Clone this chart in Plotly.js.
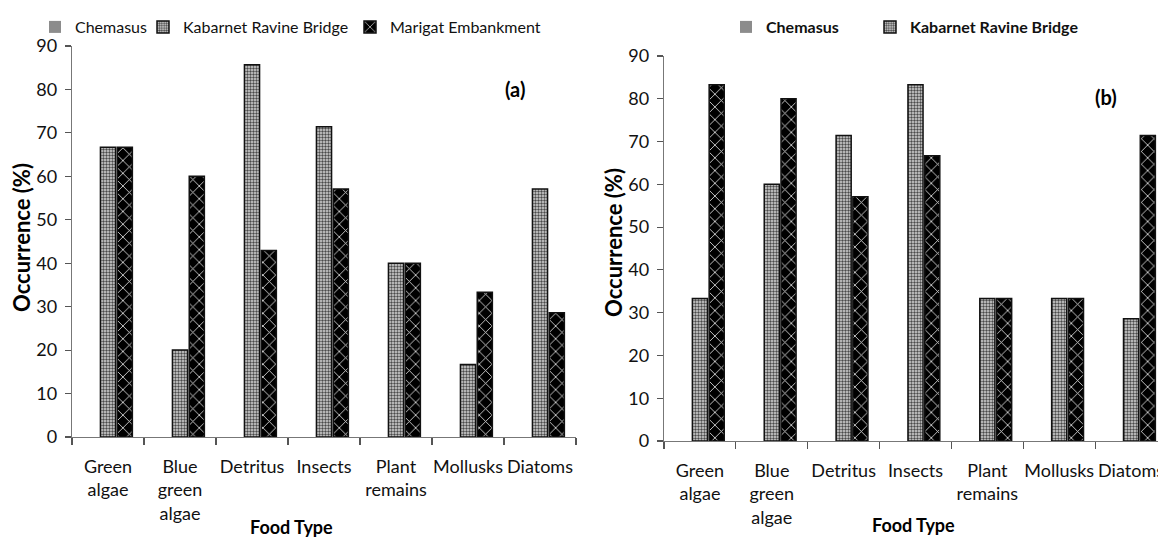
<!DOCTYPE html>
<html>
<head>
<meta charset="utf-8">
<script src="https://cdn.plot.ly/plotly-3.0.1.min.js"></script>
<style>html,body{margin:0;padding:0;background:#fff;}#chart{width:1158px;height:538px;}</style>
</head>
<body>
<div id="chart"></div>
<script>
var categories = ["Green<br>algae", "Blue<br>green<br>algae", "Detritus", "Insects", "Plant<br>remains", "Mollusks", "Diatoms"];
var seriesNames = ["Chemasus", "Kabarnet Ravine Bridge", "Marigat Embankment"];
var yTicks = [0, 10, 20, 30, 40, 50, 60, 70, 80, 90];

// Panel (a)
var chemasusA = [0, 0, 0, 0, 0, 0, 0];
var kabarnetA = [66.7, 20, 85.7, 71.4, 40, 16.7, 57.1];
var marigatA  = [66.7, 60, 42.9, 57.1, 40, 33.3, 28.6];

// Panel (b)
var chemasusB = [0, 0, 0, 0, 0, 0, 0];
var kabarnetB = [33.3, 60, 71.4, 83.3, 33.3, 33.3, 28.6];
var marigatB  = [83.3, 80, 57.1, 66.7, 33.3, 33.3, 71.4];

var FONT = "Lato, 'Open Sans', sans-serif";

var gray = {color: "#8c8c8c", line: {width: 0}};
function dotted() {
  return {color: "#cfcfcf", line: {color: "#111", width: 1.5},
    pattern: {shape: ".", fgcolor: "#4a4a4a", bgcolor: "#d8d8d8", size: 3, solidity: 0.5}};
}
function chevron() {
  return {color: "#000", line: {color: "#111", width: 1.5},
    pattern: {shape: "x", fgcolor: "#e0e0e0", bgcolor: "#000", size: 9, solidity: 0.18}};
}

var traces = [
  {type: "bar", name: seriesNames[0], x: categories, y: chemasusA, xaxis: "x", yaxis: "y", marker: gray, legend: "legend"},
  {type: "bar", name: seriesNames[1], x: categories, y: kabarnetA, xaxis: "x", yaxis: "y", marker: dotted(), legend: "legend2"},
  {type: "bar", name: seriesNames[2], x: categories, y: marigatA, xaxis: "x", yaxis: "y", marker: chevron(), legend: "legend3"},
  {type: "bar", name: "<b>" + seriesNames[0] + "</b>", x: categories, y: chemasusB, xaxis: "x2", yaxis: "y2", marker: gray, legend: "legend4"},
  {type: "bar", name: "<b>" + seriesNames[1] + "</b>", x: categories, y: kabarnetB, xaxis: "x2", yaxis: "y2", marker: dotted(), legend: "legend5"},
  {type: "bar", name: seriesNames[2], x: categories, y: marigatB, xaxis: "x2", yaxis: "y2", marker: chevron(), showlegend: false}
];

var W = 1158, H = 538;
function px(x) { return x / W; }
function py(y) { return (H - y) / H; }

var xCommon = {
  type: "category", showline: true, linecolor: "#777", linewidth: 1.3,
  ticks: "outside", tickson: "boundaries", ticklen: 7, tickcolor: "#555", tickwidth: 1.2,
  tickangle: 0, ticklabelstandoff: 13,
  tickfont: {family: FONT, size: 18, color: "#111"}, showgrid: false, zeroline: false,
  fixedrange: true
};
var yCommon = {
  range: [0, 90], tickvals: yTicks, showline: true, linecolor: "#777", linewidth: 1.3,
  ticks: "outside", ticklen: 6, tickcolor: "#555", tickwidth: 1.2, ticklabelstandoff: 4,
  tickfont: {family: FONT, size: 18, color: "#111"}, showgrid: false, zeroline: false,
  fixedrange: true
};

function leg(xp, yp) {
  return {orientation: "h", x: px(xp), y: py(yp), xanchor: "left", yanchor: "middle",
    font: {family: FONT, size: 16, color: "#111"}, itemwidth: 30, bgcolor: "rgba(0,0,0,0)"};
}

var layout = {
  width: W, height: H,
  margin: {l: 0, r: 0, t: 0, b: 0},
  paper_bgcolor: "#fff", plot_bgcolor: "#fff",
  barmode: "group", bargap: 0.3, bargroupgap: 0.1,
  font: {family: FONT, color: "#111"},
  xaxis: Object.assign({}, xCommon, {domain: [px(72), px(576)], anchor: "y", range: [-0.5, 6.5]}),
  yaxis: Object.assign({}, yCommon, {domain: [py(437), py(46)], anchor: "x"}),
  xaxis2: Object.assign({}, xCommon, {domain: [px(664), 1], anchor: "y2", range: [-0.5, 6.375]}),
  yaxis2: Object.assign({}, yCommon, {domain: [py(441), py(56)], anchor: "x2"}),
  legend: leg(35, 27),
  legend2: leg(143, 27),
  legend3: leg(350, 27),
  legend4: leg(726, 27),
  legend5: leg(870, 27),
  annotations: [
    {text: "<b>(a)</b>", xref: "paper", yref: "paper", x: px(515), y: py(89), xanchor: "center", yanchor: "middle", showarrow: false,
      font: {family: FONT, size: 20, color: "#000"}},
    {text: "<b>(b)</b>", xref: "paper", yref: "paper", x: px(1106), y: py(97), xanchor: "center", yanchor: "middle", showarrow: false,
      font: {family: FONT, size: 20, color: "#000"}},
    {text: "<b>Food Type</b>", xref: "paper", yref: "paper", x: px(291), y: py(527), xanchor: "center", yanchor: "middle", showarrow: false,
      font: {family: FONT, size: 18, color: "#000"}},
    {text: "<b>Food Type</b>", xref: "paper", yref: "paper", x: px(913), y: py(525), xanchor: "center", yanchor: "middle", showarrow: false,
      font: {family: FONT, size: 18, color: "#000"}},
    {text: "<b>Occurrence (%)</b>", xref: "paper", yref: "paper", x: px(21), y: py(238), xanchor: "center", yanchor: "middle", showarrow: false,
      textangle: -90, font: {family: FONT, size: 22, color: "#000"}},
    {text: "<b>Occurrence (%)</b>", xref: "paper", yref: "paper", x: px(614), y: py(243), xanchor: "center", yanchor: "middle", showarrow: false,
      textangle: -90, font: {family: FONT, size: 22, color: "#000"}}
  ]
};

Plotly.newPlot("chart", traces, layout, {displayModeBar: false, staticPlot: true});
</script>
</body>
</html>
